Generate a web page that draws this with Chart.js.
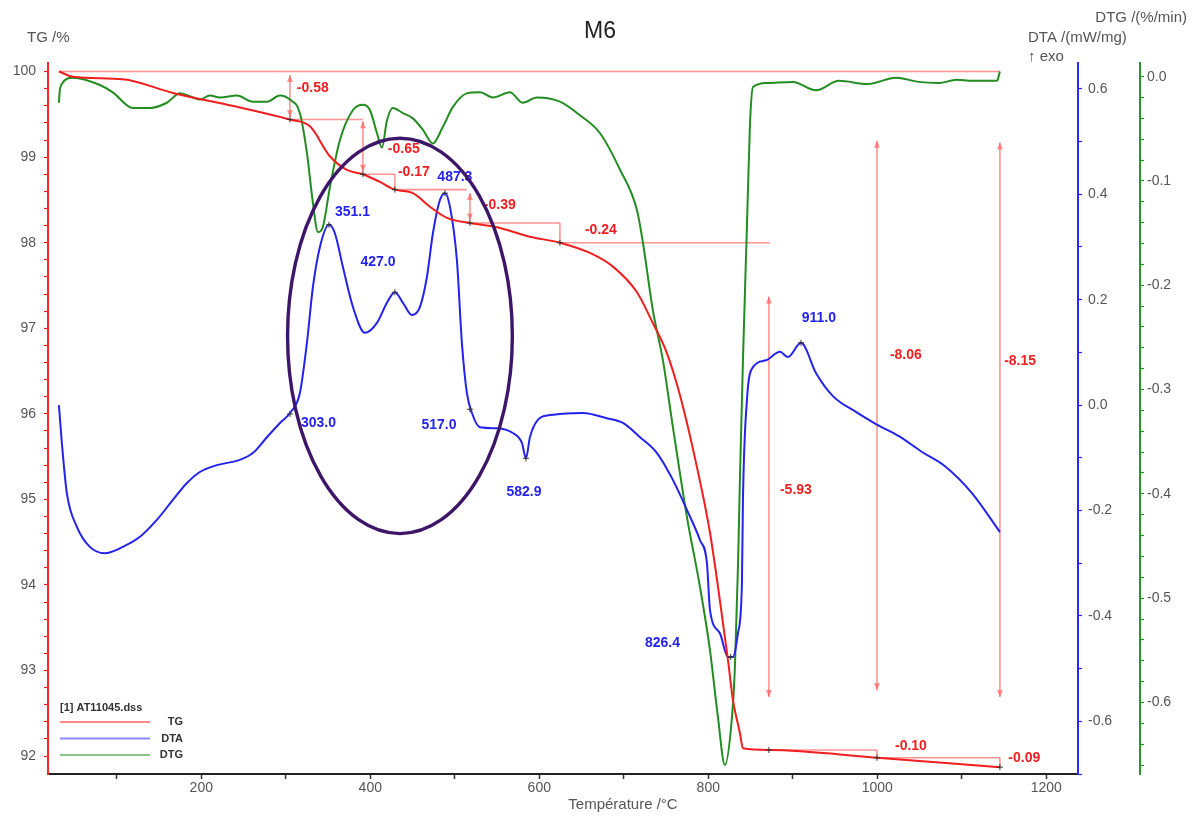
<!DOCTYPE html>
<html><head><meta charset="utf-8">
<script src="https://cdn.jsdelivr.net/npm/chart.js@4.4.1/dist/chart.umd.min.js"></script>
<style>html,body{margin:0;padding:0;background:#fff;}canvas{display:block;}</style>
</head><body>
<canvas id="c" width="1193" height="816"></canvas>
<script>
// ---------------- DATA ----------------
const tgTemp  = [31.5, 48.1, 107.2, 166.4, 245.7, 293.1, 304.9, 328.6, 352.2, 372.3, 391.3, 411.4, 429.1, 450.4, 470.6, 490.7, 517.9, 549.9, 588.9, 624.4, 659.9, 687.2, 715.6, 734.4, 751.0, 766.4, 786.5, 802.0, 813.7, 823.3, 829.2, 837.4, 841.0, 872.9, 999.6, 1145.1];
const tgValue = [100.0, 99.94, 99.91, 99.75, 99.58, 99.47, 99.44, 99.36, 99.01, 98.85, 98.80, 98.71, 98.62, 98.58, 98.42, 98.29, 98.23, 98.18, 98.07, 98.00, 97.88, 97.72, 97.42, 97.06, 96.71, 96.22, 95.38, 94.61, 93.82, 93.12, 92.65, 92.27, 92.09, 92.07, 91.98, 91.87];

const dtaTemp  = [31.5, 35.0, 40.9, 52.8, 68.1, 85.9, 107.2, 127.4, 147.4, 166.4, 183.0, 198.3, 218.5, 245.7, 261.0, 277.7, 293.1, 304.9, 316.7, 325.0, 332.1, 340.4, 351.1, 358.1, 367.6, 379.5, 393.6, 407.9, 419.7, 429.1, 438.6, 449.2, 458.7, 467.0, 474.1, 482.4, 488.4, 494.3, 502.5, 508.4, 514.3, 520.3, 529.7, 549.9, 568.7, 579.5, 584.2, 588.9, 598.3, 612.6, 624.4, 651.6, 680.0, 699.0, 719.1, 739.3, 758.1, 774.7, 790.1, 798.4, 802.0, 813.7, 823.3, 829.2, 835.1, 839.8, 841.0, 845.7, 852.9, 868.2, 884.8, 894.2, 909.7, 927.4, 947.5, 974.7, 998.4, 1025.6, 1052.9, 1080.1, 1112.0, 1145.1];
const dtaValue = [0.000, -0.072, -0.167, -0.231, -0.269, -0.281, -0.269, -0.250, -0.218, -0.180, -0.148, -0.127, -0.114, -0.104, -0.091, -0.061, -0.034, -0.015, 0.023, 0.118, 0.224, 0.300, 0.342, 0.326, 0.262, 0.186, 0.137, 0.156, 0.194, 0.214, 0.194, 0.171, 0.186, 0.243, 0.326, 0.389, 0.402, 0.376, 0.275, 0.118, 0.023, -0.015, -0.042, -0.044, -0.053, -0.072, -0.101, -0.061, -0.028, -0.019, -0.017, -0.015, -0.025, -0.034, -0.061, -0.091, -0.142, -0.199, -0.256, -0.300, -0.389, -0.433, -0.478, -0.478, -0.433, -0.338, -0.180, 0.009, 0.072, 0.085, 0.101, 0.091, 0.118, 0.061, 0.017, -0.013, -0.036, -0.059, -0.089, -0.116, -0.167, -0.241];

const dtgTemp  = [31.5, 32.6, 35.0, 48.1, 80.0, 95.3, 119.0, 139.2, 159.3, 174.7, 190.1, 198.3, 210.2, 222.0, 242.2, 261.0, 277.7, 293.1, 304.9, 316.7, 325.0, 332.1, 338.0, 343.9, 352.2, 364.0, 379.5, 391.3, 399.5, 407.9, 413.8, 419.7, 426.7, 438.6, 450.4, 462.3, 474.1, 485.9, 497.8, 514.3, 529.7, 545.2, 565.2, 580.6, 597.1, 624.4, 648.1, 671.7, 695.4, 715.6, 722.6, 734.4, 746.3, 758.1, 774.7, 790.1, 802.0, 811.4, 819.6, 828.0, 831.5, 835.1, 837.4, 841.0, 845.7, 849.2, 852.9, 869.4, 900.1, 927.4, 954.6, 988.5, 1022.1, 1048.8, 1072.9, 1093.9, 1112.0, 1141.6, 1145.1];
const dtgValue = [-0.025, -0.013, -0.007, -0.001, -0.008, -0.015, -0.030, -0.030, -0.025, -0.016, -0.020, -0.022, -0.018, -0.020, -0.018, -0.024, -0.024, -0.018, -0.022, -0.035, -0.073, -0.121, -0.149, -0.144, -0.106, -0.061, -0.032, -0.027, -0.032, -0.054, -0.068, -0.042, -0.030, -0.035, -0.040, -0.051, -0.064, -0.048, -0.029, -0.016, -0.015, -0.020, -0.015, -0.025, -0.020, -0.024, -0.037, -0.054, -0.089, -0.128, -0.159, -0.224, -0.272, -0.336, -0.422, -0.489, -0.550, -0.614, -0.660, -0.614, -0.566, -0.470, -0.387, -0.272, -0.144, -0.048, -0.010, -0.006, -0.005, -0.013, -0.004, -0.007, -0.001, -0.005, -0.006, -0.003, -0.004, -0.004, 0.005];

const stepTexts  = ['-0.58', '-0.65', '-0.17', '-0.39', '-0.24', '-5.93', '-8.06', '-8.15', '-0.10', '-0.09'];
const peakTexts  = ['303.0', '351.1', '427.0', '487.3', '517.0', '582.9', '826.4', '911.0'];

const xTickLabels   = [200, 400, 600, 800, 1000, 1200];
const tgTickLabels  = [92, 93, 94, 95, 96, 97, 98, 99, 100];
const dtaTickLabels = [-0.6, -0.4, -0.2, 0.0, 0.2, 0.4, 0.6];
const dtgTickLabels = [0.0, -0.1, -0.2, -0.3, -0.4, -0.5, -0.6];

// ---------------- LAYOUT (annotation geometry, in data units) ----------------
const stepLines = [
  [31.5, 100.0, 1145.1, 100.0],
  [304.9, 99.44, 391.3, 99.44],
  [391.3, 98.80, 429.1, 98.80],
  [429.1, 98.80, 429.1, 98.62],
  [429.1, 98.62, 514.3, 98.62],
  [517.9, 98.23, 624.4, 98.23],
  [624.4, 98.23, 624.4, 98.00],
  [624.4, 98.00, 872.9, 98.00],
  [871.7, 92.07, 999.6, 92.07],
  [999.6, 92.07, 999.6, 91.98],
  [999.6, 91.98, 1145.1, 91.98],
  [1145.1, 91.98, 1145.1, 91.87]
];
const stepArrows = [
  [304.9, 99.96, 99.47],
  [391.3, 99.42, 98.83],
  [517.9, 98.58, 98.26],
  [871.7, 97.37, 92.69],
  [999.6, 99.19, 92.77],
  [1145.1, 99.17, 92.69]
];
const stepLabelPos = [[313.1, 99.81], [420.8, 99.09], [432.7, 98.83], [534.4, 98.44], [654.0, 98.15], [884.8, 95.11], [1014.9, 96.68], [1150.1, 96.61], [1020.9, 92.12], [1155.1, 91.97]];
const tgMarks  = [[304.9, 99.44], [391.3, 98.80], [429.1, 98.62], [517.9, 98.23], [624.4, 98.00], [871.7, 92.07], [999.6, 91.98], [1145.1, 91.87]];
const peakLabelPos = [[338.6, -0.034], [378.9, 0.366], [409.0, 0.271], [500.1, 0.433], [481.2, -0.038], [581.8, -0.165], [745.7, -0.452], [930.9, 0.165]];
const dtaMarks = [[304.9, -0.017], [351.1, 0.342], [429.1, 0.214], [488.4, 0.402], [517.9, -0.008], [584.2, -0.101], [826.5, -0.478], [909.7, 0.118]];
const ellipseDef = {t: 435.1, tg: 96.91, rt: 133, rtg: 2.31};

const FONT = "'Liberation Sans', Arial, sans-serif";
const RED = 'rgb(240,30,30)', BLUE = 'rgb(35,35,235)', GREEN = 'rgb(35,140,35)';
const PINK = 'rgba(255,90,90,0.65)';

function pts(xs, ys) { return xs.map((x, i) => ({x: x, y: ys[i]})); }
function isMajor(v, list) { return list.some(m => Math.abs(m - v) < 1e-6); }
function buildTicks(from, to, step) {
  return (s) => {
    const n = Math.round((to - from) / step), arr = [];
    for (let i = 0; i <= n; i++) arr.push({value: +(from + i * step).toFixed(5)});
    s.ticks = arr;
  };
}
function fmt1(v) { const r = Math.round(v * 10) / 10; return (r === 0 ? 0 : r).toFixed(1); }

const annoPlugin = {
  id: 'anno',
  beforeDatasetsDraw(chart) {
    const ctx = chart.ctx, X = chart.scales.x, Y = chart.scales.yTG;
    ctx.save();
    ctx.strokeStyle = PINK; ctx.fillStyle = PINK; ctx.lineWidth = 1.6;
    stepLines.forEach(l => {
      ctx.beginPath();
      ctx.moveTo(X.getPixelForValue(l[0]), Y.getPixelForValue(l[1]));
      ctx.lineTo(X.getPixelForValue(l[2]), Y.getPixelForValue(l[3]));
      ctx.stroke();
    });
    stepArrows.forEach(a => {
      const x = X.getPixelForValue(a[0]), y1 = Y.getPixelForValue(a[1]), y2 = Y.getPixelForValue(a[2]);
      ctx.beginPath(); ctx.moveTo(x, y1); ctx.lineTo(x, y2); ctx.stroke();
      ctx.beginPath(); ctx.moveTo(x, y1); ctx.lineTo(x - 3, y1 + 7); ctx.lineTo(x + 3, y1 + 7); ctx.closePath(); ctx.fill();
      ctx.beginPath(); ctx.moveTo(x, y2); ctx.lineTo(x - 3, y2 - 7); ctx.lineTo(x + 3, y2 - 7); ctx.closePath(); ctx.fill();
    });
    ctx.restore();
  },
  afterDatasetsDraw(chart) {
    const ctx = chart.ctx, X = chart.scales.x, Y = chart.scales.yTG, D = chart.scales.yDTA;
    const ca = chart.chartArea;
    ctx.save();
    ctx.strokeStyle = '#333'; ctx.lineWidth = 1;
    const cross = (x, y) => { ctx.beginPath(); ctx.moveTo(x - 3, y); ctx.lineTo(x + 3, y); ctx.moveTo(x, y - 3); ctx.lineTo(x, y + 3); ctx.stroke(); };
    tgMarks.forEach(m => cross(X.getPixelForValue(m[0]), Y.getPixelForValue(m[1])));
    dtaMarks.forEach(m => cross(X.getPixelForValue(m[0]), D.getPixelForValue(m[1])));
    ctx.font = 'bold 14px ' + FONT; ctx.fillStyle = RED; ctx.textAlign = 'left'; ctx.textBaseline = 'middle';
    stepTexts.forEach((t, i) => ctx.fillText(t, X.getPixelForValue(stepLabelPos[i][0]), Y.getPixelForValue(stepLabelPos[i][1])));
    ctx.fillStyle = BLUE; ctx.textAlign = 'center';
    peakTexts.forEach((t, i) => ctx.fillText(t, X.getPixelForValue(peakLabelPos[i][0]), D.getPixelForValue(peakLabelPos[i][1])));
    const cx = X.getPixelForValue(ellipseDef.t), cy = Y.getPixelForValue(ellipseDef.tg);
    const rx = X.getPixelForValue(ellipseDef.t + ellipseDef.rt) - cx;
    const ry = Y.getPixelForValue(ellipseDef.tg - ellipseDef.rtg) - cy;
    ctx.strokeStyle = 'rgb(62,22,105)'; ctx.lineWidth = 3.4;
    ctx.beginPath(); ctx.ellipse(cx, cy, rx, ry, 0, 0, Math.PI * 2); ctx.stroke();
    const lx = ca.left + 12, by = ca.bottom;
    ctx.font = 'bold 11px ' + FONT; ctx.fillStyle = '#333'; ctx.textAlign = 'left';
    ctx.fillText('[1] AT11045.dss', lx, by - 66);
    const items = [['TG', 'rgba(255,40,40,0.55)'], ['DTA', 'rgba(40,40,255,0.55)'], ['DTG', 'rgba(40,150,40,0.55)']];
    items.forEach((it, i) => {
      const y = by - 52 + i * 16.5;
      ctx.strokeStyle = it[1]; ctx.lineWidth = 2;
      ctx.beginPath(); ctx.moveTo(lx, y); ctx.lineTo(lx + 90, y); ctx.stroke();
      ctx.textAlign = 'right'; ctx.fillStyle = '#333';
      ctx.fillText(it[0], lx + 123, y);
    });
    ctx.restore();
  },
  afterDraw(chart) {
    const ctx = chart.ctx;
    ctx.save();
    ctx.fillStyle = '#222'; ctx.textBaseline = 'middle';
    ctx.font = '23px ' + FONT; ctx.textAlign = 'center';
    ctx.fillText('M6', 600, 32);
    ctx.fillStyle = '#555'; ctx.font = '15px ' + FONT;
    ctx.textAlign = 'left';
    ctx.fillText('TG /%', 27, 38);
    ctx.fillText('DTA /(mW/mg)', 1028, 38);
    ctx.fillText('\u2191 exo', 1028, 57);
    ctx.textAlign = 'right';
    ctx.fillText('DTG /(%/min)', 1187, 18);
    ctx.textAlign = 'center';
    ctx.fillText('Temp\u00e9rature /\u00b0C', 623, 805);
    ctx.restore();
  }
};

const tickFont = {family: FONT, size: 14};

new Chart(document.getElementById('c'), {
  type: 'scatter',
  data: {
    datasets: [
      {label: 'TG', data: pts(tgTemp, tgValue), yAxisID: 'yTG', showLine: true, borderColor: RED, borderWidth: 2, pointRadius: 0, cubicInterpolationMode: 'monotone'},
      {label: 'DTA', data: pts(dtaTemp, dtaValue), yAxisID: 'yDTA', showLine: true, borderColor: BLUE, borderWidth: 2, pointRadius: 0, cubicInterpolationMode: 'monotone'},
      {label: 'DTG', data: pts(dtgTemp, dtgValue), yAxisID: 'yDTG', showLine: true, borderColor: GREEN, borderWidth: 2, pointRadius: 0, cubicInterpolationMode: 'monotone'}
    ]
  },
  options: {
    responsive: false, animation: false, devicePixelRatio: 1,
    layout: {padding: {top: 63, left: 0, right: 0, bottom: 0}},
    plugins: {legend: {display: false}, tooltip: {enabled: false}, title: {display: false}},
    scales: {
      x: {
        type: 'linear', position: 'bottom', min: 18.6, max: 1237.5,
        afterBuildTicks: buildTicks(100, 1200, 100),
        afterFit: s => { s.height = 42; },
        grid: {drawOnChartArea: false, drawTicks: true, tickLength: 5, tickColor: '#333', tickWidth: 1.5},
        border: {display: true, color: '#222', width: 2},
        ticks: {autoSkip: false, maxRotation: 0, minRotation: 0, padding: 1, color: '#555', font: tickFont,
          callback: v => isMajor(v, xTickLabels) ? String(Math.round(v)) : ''}
      },
      yTG: {
        type: 'linear', position: 'left', min: 91.79, max: 100.10,
        afterBuildTicks: buildTicks(92, 100, 0.2),
        afterFit: s => { s.width = 48; },
        grid: {drawOnChartArea: false, drawTicks: true, tickLength: 4, tickColor: RED, tickWidth: 1.2},
        border: {display: true, color: 'rgb(255,40,40)', width: 2},
        ticks: {autoSkip: false, padding: 8, color: '#555', font: tickFont,
          callback: v => isMajor(v, tgTickLabels) ? String(Math.round(v)) : ''}
      },
      yDTA: {
        type: 'linear', position: 'right', weight: 0, min: -0.700, max: 0.649,
        afterBuildTicks: buildTicks(-0.7, 0.6, 0.1),
        afterFit: s => { s.width = 62; },
        grid: {drawOnChartArea: false, drawTicks: true, tickLength: 4, tickColor: BLUE, tickWidth: 1.2},
        border: {display: true, color: 'rgb(40,40,255)', width: 2},
        ticks: {autoSkip: false, padding: 6, color: '#555', font: tickFont,
          callback: v => isMajor(v, dtaTickLabels) ? fmt1(v) : ''}
      },
      yDTG: {
        type: 'linear', position: 'right', weight: 1, min: -0.6686, max: 0.0131,
        afterBuildTicks: buildTicks(-0.66, 0, 0.02),
        afterFit: s => { s.width = 53; },
        grid: {drawOnChartArea: false, drawTicks: true, tickLength: 4, tickColor: GREEN, tickWidth: 1.2},
        border: {display: true, color: 'rgb(40,150,40)', width: 2},
        ticks: {autoSkip: false, padding: 3, color: '#555', font: tickFont,
          callback: v => isMajor(v, dtgTickLabels) ? fmt1(v) : ''}
      }
    }
  },
  plugins: [annoPlugin]
});
</script>
</body></html>
